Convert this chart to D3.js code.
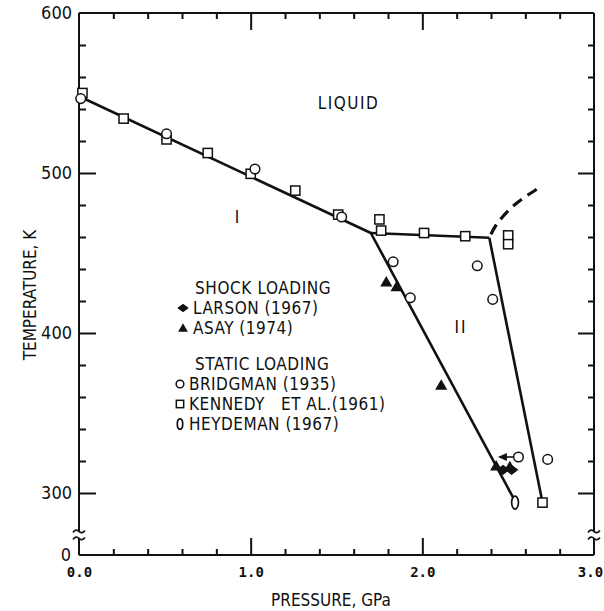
<!DOCTYPE html>
<html>
<head>
<meta charset="utf-8">
<script src="https://cdn.jsdelivr.net/npm/d3@7"></script>
<style>
  html, body { margin: 0; padding: 0; background: #fff; }
  svg { display: block; }
  .lbl { font-family: "Liberation Sans Narrow", "DejaVu Sans Condensed", "Liberation Sans", sans-serif; fill: #111; white-space: pre; }
  .num { font-family: "DejaVu Sans Mono", "Liberation Mono", monospace; fill: #111; }
</style>
</head>
<body>
<svg id="chart" width="604" height="611"></svg>
<script>
// ---- data: pressure (GPa), temperature (K) ----
const kennedy = [[0.02,550],[0.26,534],[0.51,521],[0.75,512.5],[1.00,499.5],[1.26,489],
                 [1.51,474],[1.75,471],[1.76,464],[2.01,462.5],[2.25,460.5],[2.50,461],
                 [2.50,455.5],[2.70,294]];
const bridgman = [[0.01,546.5],[0.51,524.5],[1.025,502.5],[1.53,472.5],[1.83,444.5],
                  [1.93,422],[2.32,442],[2.41,421],[2.56,322.5],[2.73,321]];
const asay = [[1.79,432],[1.85,429],[2.11,367.5],[2.43,317],[2.51,316.5]];
const larson = [[2.47,314.5],[2.52,314.5]];
const heydeman = [[2.54,294]];

// phase boundaries
const meltI = [[0,548],[1.70,462.5]];
const meltII = [[1.70,462.5],[2.39,459.5]];
const boundaryI_II = [[1.70,462.5],[2.53,297]];
const boundaryII_III = [[2.39,459.5],[2.70,294]];
const meltIII = [[2.39,459.5],[2.43,467.5],[2.51,477.5],[2.59,484.4],[2.66,489.4],[2.70,492.5]];

// arrow attached to one Bridgman point
const arrowFrom = [2.53,322.5];
const arrowTo = [2.44,322.5];

// axes
const xMajorTicks = [0, 1, 2, 3];
const xMinorTicks = [0.2,0.4,0.6,0.8,1.2,1.4,1.6,1.8,2.2,2.4,2.6,2.8];
const yMajorTicks = [300, 400, 500, 600];
const yMinorTicks = [320,340,360,380,420,440,460,480,520,540,560,580];
const yBreakValue = 276;   // axis interrupted below this temperature
const yFloorLabel = "0";

const regionLabels = [
  {text: "LIQUID", p: 1.57, t: 544, spacing: 1.5},
  {text: "I", p: 0.92, t: 472.5, spacing: 0},
  {text: "II", p: 2.225, t: 404, spacing: 2}
];

const legendGroups = [
  {title: "SHOCK LOADING", items: [
    {sym: "diamond", text: "LARSON (1967)"},
    {sym: "triangle", text: "ASAY (1974)"}]},
  {title: "STATIC LOADING", items: [
    {sym: "circle", text: "BRIDGMAN (1935)"},
    {sym: "square", text: "KENNEDY\u00a0\u00a0\u00a0ET AL.(1961)"},
    {sym: "ellipse", text: "HEYDEMAN (1967)"}]}
];

// ---- layout ----
const svg = d3.select("#chart");
const plotLeft = 79, plotRight = 594, plotTop = 13, plotBottom = 555;
const x = d3.scaleLinear().domain([0, 3]).range([plotLeft, plotRight]);
const y = d3.scaleLinear().domain([300, 600]).range([493, plotTop]);
const ink = "#111";

svg.append("rect").attr("width", 604).attr("height", 611).attr("fill", "#fff");

// frame with broken vertical sides
const yBreak = y(yBreakValue);
const gap = 7;
const frame = svg.append("g").attr("stroke", ink).attr("stroke-width", 2).attr("fill", "none");
frame.append("line").attr("x1", plotLeft).attr("x2", plotRight).attr("y1", plotTop).attr("y2", plotTop);
frame.append("line").attr("x1", plotLeft).attr("x2", plotRight).attr("y1", plotBottom).attr("y2", plotBottom);
[plotLeft, plotRight].forEach(xx => {
  frame.append("line").attr("x1", xx).attr("x2", xx).attr("y1", plotTop).attr("y2", yBreak);
  frame.append("line").attr("x1", xx).attr("x2", xx).attr("y1", yBreak + gap).attr("y2", plotBottom);
  [yBreak, yBreak + gap].forEach(yy => {
    frame.append("path").attr("stroke-width", 1.6)
      .attr("d", `M${xx-6},${yy+1} q3,-4 6,-1 t6,-1`);
  });
});

// ticks drawn with d3 axes (inward pointing)
function tickAxis(axis, transform) {
  const g = svg.append("g").attr("transform", transform).call(axis);
  g.select(".domain").remove();
  g.selectAll("line").attr("stroke", ink).attr("stroke-width", 2);
  g.selectAll("text").remove();
  return g;
}
const xMajInner = xMajorTicks.filter(v => v > 0 && v < 3);
const yMajInner = yMajorTicks.filter(v => v < 600);
tickAxis(d3.axisTop(x).tickValues(xMinorTicks).tickSize(6), `translate(0,${plotBottom})`);
tickAxis(d3.axisTop(x).tickValues(xMajInner).tickSize(17), `translate(0,${plotBottom})`);
tickAxis(d3.axisBottom(x).tickValues(xMinorTicks).tickSize(6), `translate(0,${plotTop})`);
tickAxis(d3.axisBottom(x).tickValues(xMajInner).tickSize(17), `translate(0,${plotTop})`);
tickAxis(d3.axisRight(y).tickValues(yMinorTicks).tickSize(7), `translate(${plotLeft},0)`);
tickAxis(d3.axisRight(y).tickValues(yMajInner).tickSize(17), `translate(${plotLeft},0)`);
tickAxis(d3.axisLeft(y).tickValues(yMinorTicks).tickSize(6), `translate(${plotRight},0)`);
tickAxis(d3.axisLeft(y).tickValues(yMajInner).tickSize(16), `translate(${plotRight},0)`);

// tick labels
const xLab = svg.append("g").attr("transform", `translate(0,${plotBottom})`)
  .call(d3.axisBottom(x).tickValues(xMajorTicks).tickSize(0).tickPadding(12).tickFormat(d3.format(".1f")));
xLab.select(".domain").remove();
xLab.selectAll("text").attr("class", "num").attr("font-size", 14).attr("font-weight", "bold")
  .attr("fill", ink).attr("dx", d => d === 3 ? -4 : 0);

const yLab = svg.append("g").attr("transform", `translate(${plotLeft},0)`)
  .call(d3.axisLeft(y).tickValues(yMajorTicks).tickSize(0).tickPadding(7));
yLab.select(".domain").remove();
yLab.selectAll("text").attr("class", "lbl").attr("font-size", 18).attr("fill", ink);
svg.append("text").attr("class", "lbl").attr("x", plotLeft - 8).attr("y", plotBottom)
  .attr("dy", "0.32em").attr("text-anchor", "end").attr("font-size", 18).text(yFloorLabel);

// axis titles
svg.append("text").attr("class", "lbl").attr("font-size", 17)
  .attr("x", 331).attr("y", 606).attr("text-anchor", "middle").text("PRESSURE, GPa");
svg.append("text").attr("class", "lbl").attr("font-size", 17)
  .attr("transform", `translate(36,295) rotate(-90)`).attr("text-anchor", "middle").text("TEMPERATURE, K");

// phase boundaries
const line = d3.line().x(d => x(d[0])).y(d => y(d[1]));
const phase = svg.append("g").attr("fill", "none").attr("stroke", ink).attr("stroke-width", 2.6)
  .attr("stroke-linejoin", "round");
[meltI, meltII, boundaryI_II, boundaryII_III].forEach(d => phase.append("path").attr("d", line(d)));
phase.append("path").attr("d", line.curve(d3.curveCatmullRom)(meltIII))
  .attr("stroke-width", 3.2).attr("stroke-dasharray", "11,7").attr("stroke-dashoffset", -4);

// symbols
function drawSym(g, sym, cx, cy, s) {
  if (sym === "circle") {
    g.append("circle").attr("cx", cx).attr("cy", cy).attr("r", 4.8 * s)
      .attr("fill", "#fff").attr("stroke", ink).attr("stroke-width", 1.5);
  } else if (sym === "square") {
    const h = 4.6 * s;
    g.append("rect").attr("x", cx - h).attr("y", cy - h).attr("width", 2 * h).attr("height", 2 * h)
      .attr("fill", "#fff").attr("stroke", ink).attr("stroke-width", 1.5);
  } else if (sym === "triangle") {
    const h = 5.8 * s;
    g.append("path").attr("d", `M${cx},${cy - h} L${cx + h * 1.05},${cy + h * 0.8} L${cx - h * 1.05},${cy + h * 0.8}Z`)
      .attr("fill", ink);
  } else if (sym === "diamond") {
    const h = 6.8 * s;
    g.append("path").attr("d", `M${cx - h},${cy} L${cx},${cy - h * 0.75} L${cx + h},${cy} L${cx},${cy + h * 0.75}Z`)
      .attr("fill", ink);
  } else if (sym === "ellipse") {
    g.append("ellipse").attr("cx", cx).attr("cy", cy).attr("rx", 3.4 * s).attr("ry", 6.5 * s)
      .attr("fill", "#fff").attr("stroke", ink).attr("stroke-width", 1.7);
  }
}
const marks = svg.append("g");
kennedy.forEach(d => drawSym(marks, "square", x(d[0]), y(d[1]), 1));
bridgman.forEach(d => drawSym(marks, "circle", x(d[0]), y(d[1]), 1));
asay.forEach(d => drawSym(marks, "triangle", x(d[0]), y(d[1]), 1));
larson.forEach(d => drawSym(marks, "diamond", x(d[0]), y(d[1]), 1));
heydeman.forEach(d => drawSym(marks, "ellipse", x(d[0]), y(d[1]), 1));

// arrow
const ax1 = x(arrowFrom[0]), ay1 = y(arrowFrom[1]), ax2 = x(arrowTo[0]), ay2 = y(arrowTo[1]);
marks.append("line").attr("x1", ax1).attr("y1", ay1).attr("x2", ax2 + 6).attr("y2", ay2)
  .attr("stroke", ink).attr("stroke-width", 1.6);
marks.append("path").attr("d", `M${ax2},${ay2} L${ax2 + 9},${ay2 - 4} L${ax2 + 9},${ay2 + 4}Z`).attr("fill", ink);

// region labels
regionLabels.forEach(r => {
  svg.append("text").attr("class", "lbl").attr("font-size", 17)
    .attr("x", x(r.p)).attr("y", y(r.t)).attr("dy", "0.35em").attr("text-anchor", "middle")
    .attr("letter-spacing", r.spacing)
    .text(r.text);
});

// legend
const lg = svg.append("g");
let ly = 288;
legendGroups.forEach(grp => {
  lg.append("text").attr("class", "lbl").attr("font-size", 17).attr("letter-spacing", 0.6)
    .attr("x", 195).attr("y", ly).attr("dy", "0.35em").text(grp.title);
  ly += 20;
  grp.items.forEach(it => {
    const filled = it.sym === "diamond" || it.sym === "triangle";
    drawSym(lg, it.sym, filled ? 183 : 180, ly, it.sym === "diamond" ? 0.85 : 0.8);
    lg.append("text").attr("class", "lbl").attr("font-size", 17).attr("letter-spacing", 0.5)
      .attr("x", filled ? 193 : 189).attr("y", ly).attr("dy", "0.35em").text(it.text);
    ly += 20;
  });
  ly += 16;
});
</script>
</body>
</html>
